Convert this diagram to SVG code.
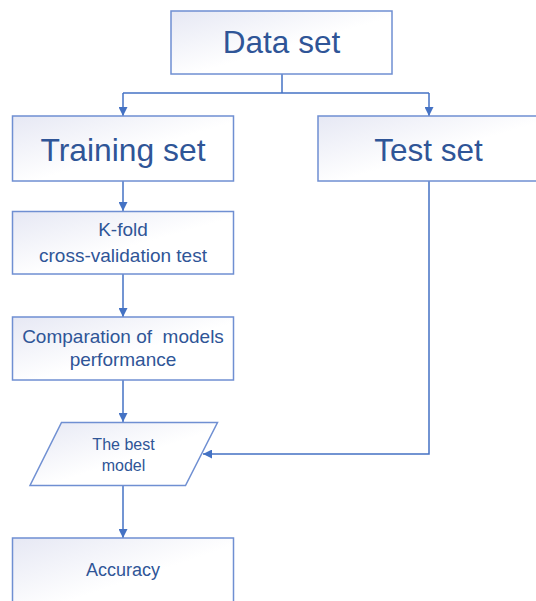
<svg xmlns="http://www.w3.org/2000/svg" width="536" height="601" viewBox="0 0 536 601">
  <defs>
    <linearGradient id="boxFill" x1="0" y1="0" x2="1" y2="1">
      <stop offset="0" stop-color="#E6E8F4"/>
      <stop offset="0.55" stop-color="#FFFFFF"/>
      <stop offset="1" stop-color="#FFFFFF"/>
    </linearGradient>
    <marker id="head" viewBox="0 0 10 10" refX="10" refY="5" markerWidth="9" markerHeight="9" markerUnits="userSpaceOnUse" orient="auto">
      <path d="M0,0 L10,5 L0,10 z" fill="#4472C4"/>
    </marker>
  </defs>
  <style>
    .box { fill: url(#boxFill); stroke: #6F8FD2; stroke-width: 1.5; }
    .lbl { font-family: "Liberation Sans", Arial, sans-serif; fill: #2F5597; text-anchor: middle; white-space: pre; }
    .conn { fill: none; stroke: #4472C4; stroke-width: 1.5; }
  </style>

  <rect width="536" height="601" fill="#FFFFFF"/>

  <g id="connectors">
    <path class="conn" d="M282,74 V93"/>
    <path class="conn" d="M123,93 H429"/>
    <path class="conn" d="M123,93 V116" marker-end="url(#head)"/>
    <path class="conn" d="M429,93 V116" marker-end="url(#head)"/>
    <path class="conn" d="M123,181 V211" marker-end="url(#head)"/>
    <path class="conn" d="M123,274 V317" marker-end="url(#head)"/>
    <path class="conn" d="M123,380 V422" marker-end="url(#head)"/>
    <path class="conn" d="M429,181 V454 H203" marker-end="url(#head)"/>
    <path class="conn" d="M123,485 V538" marker-end="url(#head)"/>
  </g>

  <g id="data-set">
    <rect class="box" x="171" y="11" width="221" height="63"/>
    <text class="lbl" x="281.5" y="53" font-size="31.5">Data set</text>
  </g>

  <g id="training-set">
    <rect class="box" x="12.5" y="116" width="221" height="65"/>
    <text class="lbl" x="123" y="161" font-size="31.8">Training set</text>
  </g>

  <g id="test-set">
    <rect class="box" x="318" y="116" width="222" height="65"/>
    <text class="lbl" x="428.5" y="161" font-size="31.5">Test set</text>
  </g>

  <g id="k-fold">
    <rect class="box" x="12.5" y="211.5" width="221" height="62.5"/>
    <text class="lbl" x="123" y="236" font-size="19">K-fold</text>
    <text class="lbl" x="123" y="261.5" font-size="19">cross-validation test</text>
  </g>

  <g id="comparation">
    <rect class="box" x="12.5" y="317" width="221" height="63"/>
    <text class="lbl" x="123" y="342.5" font-size="19" xml:space="preserve">Comparation of  models</text>
    <text class="lbl" x="123" y="366" font-size="19">performance</text>
  </g>

  <g id="best-model">
    <path class="box" d="M61.5,422.5 H217.5 L185.5,485.5 H30 Z"/>
    <text class="lbl" x="123.5" y="449.5" font-size="16">The best</text>
    <text class="lbl" x="123.5" y="471" font-size="16">model</text>
  </g>

  <g id="accuracy">
    <rect class="box" x="12.5" y="538" width="221" height="75"/>
    <text class="lbl" x="123" y="576" font-size="18">Accuracy</text>
  </g>
</svg>
